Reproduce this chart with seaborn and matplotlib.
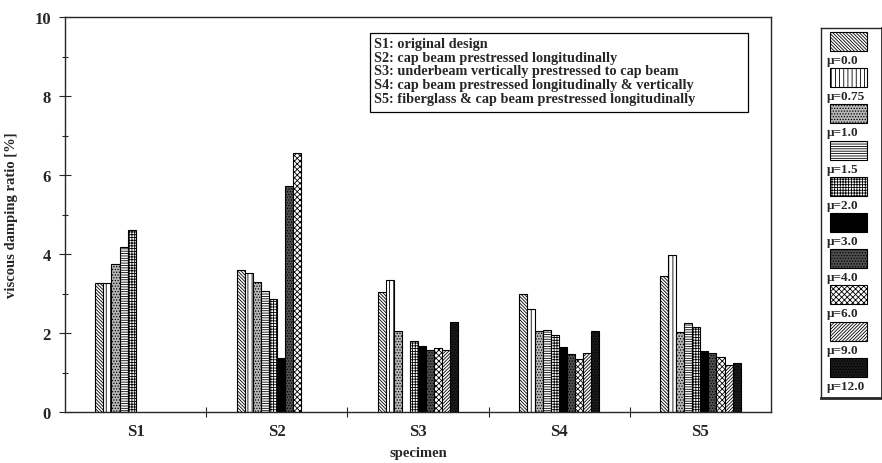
import matplotlib
matplotlib.use('Agg')
import matplotlib.pyplot as plt
import matplotlib.patches as mpatches
import numpy as np
import pandas as pd
import seaborn as sns

# specimens and ductility levels
specimens = ['S1', 'S2', 'S3', 'S4', 'S5']
mu_labels = ['μ=0.0', 'μ=0.75', 'μ=1.0', 'μ=1.5', 'μ=2.0',
             'μ=3.0', 'μ=4.0', 'μ=6.0', 'μ=9.0', 'μ=12.0']

nan = np.nan
# viscous damping ratio [%] per specimen, one value per ductility level
s1 = [3.27, 3.27, 3.75, 4.18, 4.62, nan, nan, nan, nan, nan]
s2 = [3.60, 3.53, 3.30, 3.07, 2.85, 1.36, 5.72, 6.55, nan, nan]
s3 = [3.03, 3.33, 2.05, nan, 1.80, 1.66, 1.57, 1.61, 1.57, 2.27]
s4 = [3.00, 2.60, 2.05, 2.08, 1.95, 1.65, 1.47, 1.34, 1.49, 2.05]
s5 = [3.45, 3.98, 2.02, 2.26, 2.15, 1.54, 1.49, 1.39, 1.20, 1.24]

descriptions = ['S1: original design',
                'S2: cap beam prestressed longitudinally',
                'S3: underbeam vertically prestressed to cap beam',
                'S4: cap beam prestressed longitudinally & vertically',
                'S5: fiberglass & cap beam prestressed longitudinally']

# fill / hatch per ductility level (black & white print look)
faces = ['white', 'white', '#b8b8b8', 'white', 'white',
         'black', '#505050', 'white', 'white', '#1a1a1a']
hatches = ['\\' * 10, '|' * 4, '.' * 6, '-' * 7, '+' * 6,
           '', '.' * 6, 'x' * 6, '/' * 10, '.' * 6]

rows = []
for spec, vals in zip(specimens, [s1, s2, s3, s4, s5]):
    for mu, v in zip(mu_labels, vals):
        rows.append({'specimen': spec, 'mu': mu, 'ratio': v})
df = pd.DataFrame(rows)

sns.set_style('ticks')
plt.rcParams['font.family'] = ['Liberation Serif', 'DejaVu Serif']
plt.rcParams['font.weight'] = 'bold'
plt.rcParams['hatch.linewidth'] = 0.6

fig = plt.figure(figsize=(8.82, 4.64), dpi=100)
ax = fig.add_axes([65 / 882, 1 - 413 / 464, 706 / 882, 395 / 464])

sns.barplot(data=df, x='specimen', y='ratio', hue='mu',
            order=specimens, hue_order=mu_labels,
            palette=dict(zip(mu_labels, faces)), saturation=1,
            width=0.57, edgecolor='black', linewidth=0.8,
            legend=False, ax=ax)

for cont, h in zip(ax.containers, hatches):
    for bar in cont:
        bar.set_hatch(h)

ax.set_ylim(0, 10)
ax.set_xlim(-0.5, 4.5)
ax.set_yticks(range(0, 11, 2))
ax.set_yticks(range(1, 11, 2), minor=True)
ax.set_xticks(np.arange(0.5, 4.0, 1.0), minor=True)
ax.tick_params(axis='y', which='both', direction='inout', length=8, width=0.8,
               labelsize=12, pad=6)
ax.tick_params(axis='y', which='minor', length=5)
ax.tick_params(axis='x', which='major', length=0, labelsize=12, pad=8)
ax.tick_params(axis='x', which='minor', direction='inout', length=7, width=0.8)
for s in ax.spines.values():
    s.set_visible(True)
    s.set_linewidth(1.0)
ax.set_xlabel('specimen', fontsize=10.5, fontweight='bold', labelpad=5)
ax.set_ylabel('viscous damping ratio [%]', fontsize=10.5, fontweight='bold', labelpad=12)

# description box
ax.add_patch(mpatches.Rectangle((0.432, 0.76), 0.535, 0.2, transform=ax.transAxes,
                                facecolor='white', edgecolor='black', linewidth=0.9,
                                zorder=5))
ax.text(0.438, 0.95, '\n'.join(descriptions), transform=ax.transAxes,
        ha='left', va='top', fontsize=10.3, fontweight='bold', linespacing=1.08,
        zorder=6)

# legend panel: swatch with label underneath
lax = fig.add_axes([821 / 882, 1 - 399 / 464, 61 / 882, 370 / 464])
lax.set_xlim(0, 1)
lax.set_ylim(370, 0)
lax.set_xticks([])
lax.set_yticks([])
for name, s in lax.spines.items():
    s.set_linewidth(2.0 if name in ('right', 'bottom') else 1.0)
for i, (lab, fc, h) in enumerate(zip(mu_labels, faces, hatches)):
    top = 4 + 36.2 * i
    lax.add_patch(mpatches.Rectangle((0.15, top), 0.6, 19, facecolor=fc,
                                     edgecolor='black', hatch=h, linewidth=0.8))
    lax.text(0.1, top + 28, lab, ha='left', va='center', fontsize=9.5,
             fontweight='bold')

fig.savefig('out.png', dpi=100)
